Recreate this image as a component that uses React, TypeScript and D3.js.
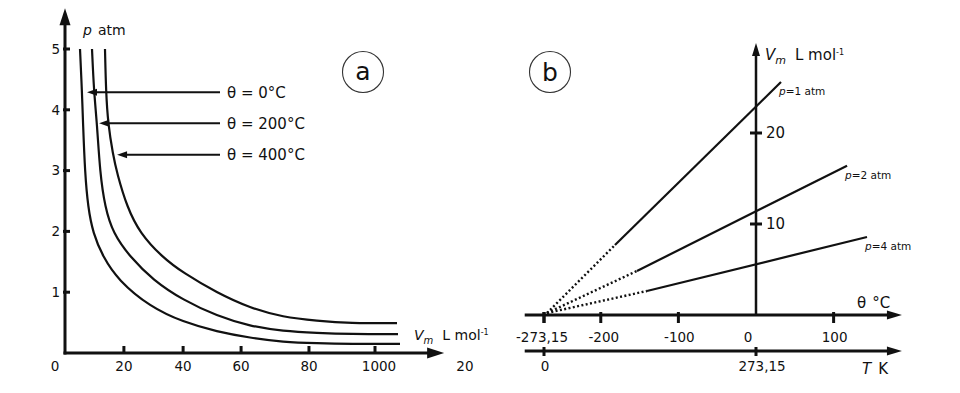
import React from "react";
import * as d3 from "d3";

// ---------- Panel a: isotherms p vs Vm ----------
const isoLabels = ["θ = 0°C", "θ = 200°C", "θ = 400°C"];
const curveV0 = [4.84, 5.48, 5.81, 6.45, 7.42, 9.03, 12.26, 17.1, 27.42, 38.06, 49.03, 59.68, 70.32, 81.29, 91.94, 108.06];
const curveP0 = [5.0, 4.29, 3.78, 2.96, 2.4, 1.97, 1.58, 1.2, 0.76, 0.51, 0.35, 0.25, 0.18, 0.16, 0.15, 0.15];
const curveV200 = [8.71, 9.35, 10.32, 11.29, 12.9, 15.48, 20.97, 28.39, 38.06, 49.03, 59.68, 70.32, 81.29, 91.94, 107.42];
const curveP200 = [5.0, 4.29, 3.78, 2.96, 2.4, 1.97, 1.58, 1.2, 0.87, 0.61, 0.44, 0.36, 0.33, 0.31, 0.31];
const curveV400 = [12.9, 13.23, 13.87, 15.48, 16.77, 20.0, 24.19, 31.29, 38.06, 49.03, 59.68, 70.32, 81.29, 91.94, 107.1];
const curveP400 = [5.0, 4.29, 3.78, 3.26, 2.96, 2.4, 1.97, 1.58, 1.32, 0.99, 0.74, 0.59, 0.53, 0.49, 0.49];
const isoArrowP = [4.29, 3.78, 3.26];
const isoArrowTipV = [7.1, 11.0, 16.8];
const isoArrowTailV = 50;
const pTicks = [1, 2, 3, 4, 5];
const vTickValues = [19, 38.1, 56.8, 78.7, 100];
const vTickLabels = ["20", "40", "60", "80", "1000"];
const vExtraLabelValues = [-3.2, 129];
const vExtraLabels = ["0", "20"];

// ---------- Panel b: isobars Vm vs theta ----------
const isobarLabels = ["=1 atm", "=2 atm", "=4 atm"];
const isobarBreakTheta = [-181.7, -153.4, -140.5];
const isobarBreakV = [7.69, 4.84, 2.64];
const isobarEndTheta = [32.2, 117.3, 143];
const isobarEndV = [25.6, 16.4, 8.57];
const absZero = -273.15;
const thetaTicks = [-273.15, -200, -100, 100];
const thetaTickLabels = ["-273,15", "-200", "-100", "100"];
const thetaZeroLabel = "0";
const kelvinTicks = [0, 273.15];
const kelvinTickLabels = ["0", "273,15"];
const vmTicks = [10, 20];

const FONT = "DejaVu Sans, Verdana, sans-serif";
const INK = "#111";

function arrow(tipX: number, tipY: number, dir: "up" | "right" | "left", len: number, hw: number) {
  if (dir === "up") return `${tipX},${tipY} ${tipX - hw},${tipY + len} ${tipX + hw},${tipY + len}`;
  if (dir === "right") return `${tipX},${tipY} ${tipX - len},${tipY - hw} ${tipX - len},${tipY + hw}`;
  return `${tipX},${tipY} ${tipX + len},${tipY - hw} ${tipX + len},${tipY + hw}`;
}

export default function App() {
  // panel a scales
  const xL = d3.scaleLinear().domain([0, 100]).range([65, 375]);
  const yL = d3.scaleLinear().domain([0, 5]).range([353, 49]);
  const lineL = d3
    .line<[number, number]>()
    .x((d) => xL(d[0]))
    .y((d) => yL(d[1]))
    .curve(d3.curveBasis);
  const curves: [number, number][][] = [
    curveV0.map((v, i) => [v, curveP0[i]] as [number, number]),
    curveV200.map((v, i) => [v, curveP200[i]] as [number, number]),
    curveV400.map((v, i) => [v, curveP400[i]] as [number, number]),
  ];
  const axL0x = xL(0);
  const axL0y = yL(0);
  const axLTop = yL(5.67);
  const axLRight = xL(122.3);

  // panel b scales
  const xR = d3.scaleLinear().domain([absZero, 0]).range([544, 756]);
  const yR = d3.scaleLinear().domain([0, 20]).range([315, 133]);
  const xK = (k: number) => xR(k + absZero);
  const axRLeft = xR(-298);
  const axRRight = xR(188);
  const axR0 = yR(0);
  const axTy = axR0 + 36;
  const axRTop = yR(29.9);

  return (
    <svg
      width={960}
      height={393}
      style={{ position: "absolute", left: 0, top: 0, background: "#fff" }}
      fontFamily={FONT}
    >
      <rect width={960} height={393} fill="#fff" />
      {/* ===== Panel a ===== */}
      <g>
        <line x1={axL0x} y1={axL0y + 1.5} x2={axL0x} y2={axLTop + 14} stroke={INK} strokeWidth={3} />
        <polygon points={arrow(axL0x, axLTop, "up", 17, 5.5)} fill={INK} />
        <line x1={axL0x - 1.5} y1={axL0y} x2={axLRight - 14} y2={axL0y} stroke={INK} strokeWidth={3} />
        <polygon points={arrow(axLRight, axL0y, "right", 17, 5.5)} fill={INK} />
        {pTicks.map((p) => (
          <g key={"pt" + p}>
            <line x1={axL0x - 2} x2={axL0x + 5} y1={yL(p)} y2={yL(p)} stroke={INK} strokeWidth={3} />
            <text x={60} y={yL(p)} dy="0.35em" textAnchor="end" fontSize={13.5} fill={INK}>
              {p}
            </text>
          </g>
        ))}
        {vTickValues.map((v, i) => (
          <g key={"vt" + i}>
            <line x1={xL(v)} x2={xL(v)} y1={axL0y} y2={axL0y - 7} stroke={INK} strokeWidth={3} />
            <text x={xL(v) + (i === 4 ? 4 : 0)} y={366} dy="0.35em" textAnchor="middle" fontSize={13.5} fill={INK}>
              {vTickLabels[i]}
            </text>
          </g>
        ))}
        {vExtraLabelValues.map((v, i) => (
          <text key={"vx" + i} x={xL(v)} y={366} dy="0.35em" textAnchor="middle" fontSize={13.5} fill={INK}>
            {vExtraLabels[i]}
          </text>
        ))}
        <text x={83} y={35} fontSize={14} fill={INK}>
          <tspan fontStyle="italic">p</tspan>
          <tspan dx={6}>atm</tspan>
        </text>
        <text x={414} y={340} fontSize={14} fill={INK}>
          <tspan fontStyle="italic">V</tspan>
          <tspan fontStyle="italic" fontSize={10} dy={4}>m</tspan>
          <tspan dx={9} dy={-4}>L mol</tspan>
          <tspan fontSize={8} dy={-5}>-1</tspan>
        </text>
        {curves.map((c, i) => (
          <path key={"c" + i} d={lineL(c) || ""} fill="none" stroke={INK} strokeWidth={2.2} />
        ))}
        {isoLabels.map((lab, i) => {
          const y = yL(isoArrowP[i]);
          const tip = xL(isoArrowTipV[i]);
          const tail = xL(isoArrowTailV);
          return (
            <g key={"ia" + i}>
              <line x1={tip + 8} x2={tail} y1={y} y2={y} stroke={INK} strokeWidth={2} />
              <polygon points={arrow(tip, y, "left", 10, 3.5)} fill={INK} />
              <text x={tail + 7} y={y} dy="0.38em" fontSize={15} fill={INK}>
                {lab}
              </text>
            </g>
          );
        })}
        <circle cx={363} cy={72} r={20.5} fill="none" stroke="#333" strokeWidth={1.1} />
        <text x={363} y={72} dy="0.33em" textAnchor="middle" fontSize={25} fill={INK}>
          a
        </text>
      </g>

      {/* ===== Panel b ===== */}
      <g>
        <circle cx={550} cy={72} r={20.5} fill="none" stroke="#333" strokeWidth={1.1} />
        <text x={550} y={72} dy="0.35em" textAnchor="middle" fontSize={25} fill={INK}>
          b
        </text>
        <line x1={axRLeft} x2={axRRight - 12} y1={axR0} y2={axR0} stroke={INK} strokeWidth={3} />
        <polygon points={arrow(axRRight, axR0, "right", 15, 4.5)} fill={INK} />
        {thetaTicks.map((t, i) => (
          <g key={"tt" + i}>
            <line x1={xR(t)} x2={xR(t)} y1={axR0 - 3} y2={axR0 + 8} stroke={INK} strokeWidth={i === 0 ? 3.5 : 3} />
            <text x={xR(t) + (i === 0 ? -2 : i === 1 ? 3 : 1)} y={337} dy="0.35em" textAnchor="middle" fontSize={13.5} fill={INK}>
              {thetaTickLabels[i]}
            </text>
          </g>
        ))}
        <text x={xR(0) - 8} y={337} dy="0.35em" textAnchor="middle" fontSize={13.5} fill={INK}>
          {thetaZeroLabel}
        </text>
        <text x={857} y={303} dy="0.35em" fontSize={15} fill={INK}>
          θ
          <tspan dx={6}>°C</tspan>
        </text>
        <line x1={axRLeft} x2={axRRight - 12} y1={axTy} y2={axTy} stroke={INK} strokeWidth={3} />
        <polygon points={arrow(axRRight, axTy, "right", 15, 4.5)} fill={INK} />
        {kelvinTicks.map((k, i) => (
          <g key={"kt" + i}>
            <line x1={xK(k)} x2={xK(k)} y1={axTy - 4} y2={axTy + 5} stroke={INK} strokeWidth={3} />
            <text x={xK(k) + (i === 0 ? 1 : 6)} y={366} dy="0.35em" textAnchor="middle" fontSize={13.5} fill={INK}>
              {kelvinTickLabels[i]}
            </text>
          </g>
        ))}
        <text x={862} y={369} dy="0.35em" fontSize={15} fill={INK}>
          <tspan fontStyle="italic">T</tspan>
          <tspan dx={7}>K</tspan>
        </text>
        <line x1={xR(0)} x2={xR(0)} y1={axR0} y2={axRTop + 10} stroke={INK} strokeWidth={2.5} />
        <polygon points={arrow(xR(0), axRTop, "up", 13, 4)} fill={INK} />
        {vmTicks.map((v) => (
          <g key={"vm" + v}>
            <line x1={xR(0) - 6} x2={xR(0) + 6} y1={yR(v)} y2={yR(v)} stroke={INK} strokeWidth={3} />
            <text x={766} y={yR(v)} dy="0.35em" fontSize={15} fill={INK}>
              {v}
            </text>
          </g>
        ))}
        <text x={765} y={60} fontSize={15} fill={INK}>
          <tspan fontStyle="italic">V</tspan>
          <tspan fontStyle="italic" fontSize={11} dy={4}>m</tspan>
          <tspan dx={9} dy={-4}>L mol</tspan>
          <tspan fontSize={8} dy={-5}>-1</tspan>
        </text>
        {isobarLabels.map((lab, i) => {
          const bx = xR(isobarBreakTheta[i]);
          const by = yR(isobarBreakV[i]);
          const ex = xR(isobarEndTheta[i]);
          const ey = yR(isobarEndV[i]);
          return (
            <g key={"ib" + i}>
              <line x1={xR(absZero) + 3} y1={yR(0) - 2} x2={bx} y2={by} stroke={INK} strokeWidth={2.4} strokeDasharray="2 2.4" />
              <line x1={bx} y1={by} x2={ex} y2={ey} stroke={INK} strokeWidth={2.2} />
              <text x={ex - 2} y={ey + 13} fontSize={10.5} fill={INK}>
                <tspan fontStyle="italic">p</tspan>
                {lab}
              </text>
            </g>
          );
        })}
      </g>
    </svg>
  );
}
